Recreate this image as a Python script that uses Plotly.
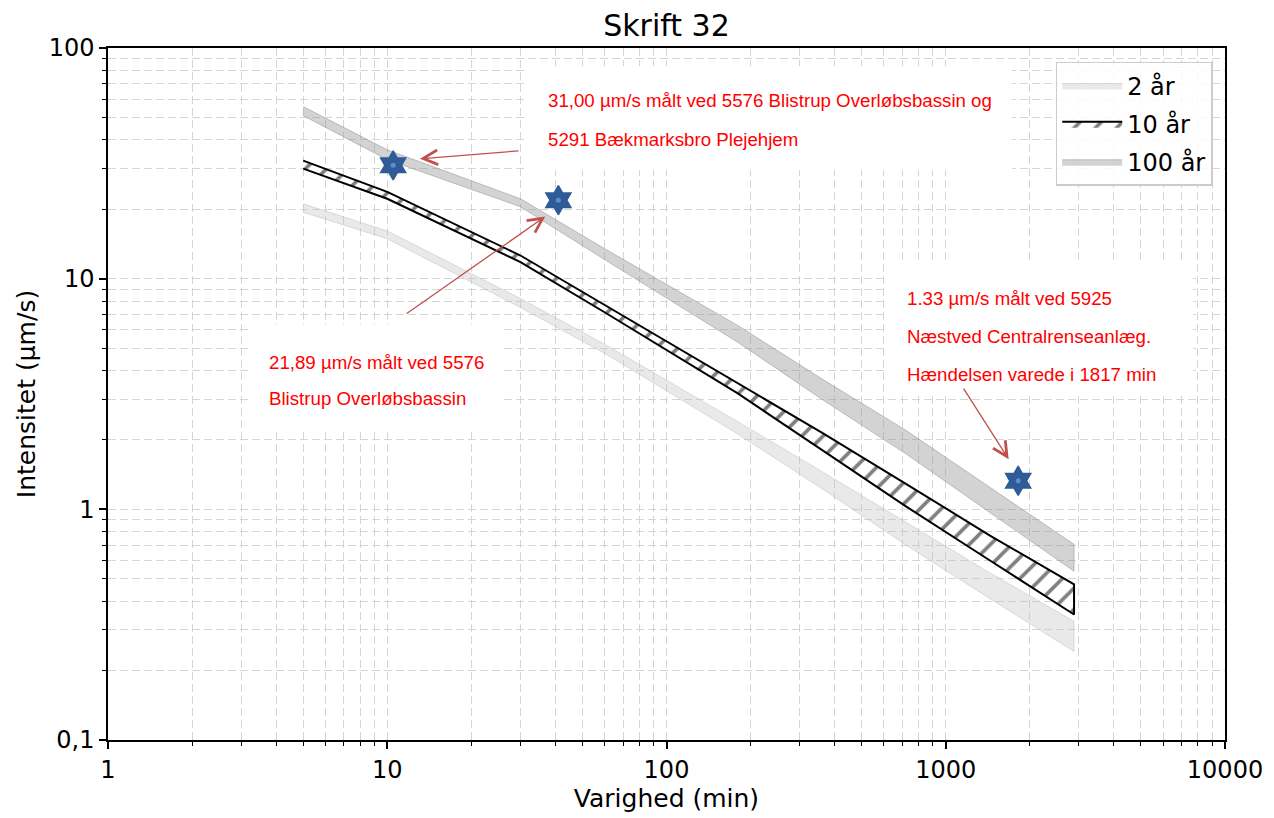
import numpy as np
import plotly.graph_objects as go

# ---------------- data ----------------
durations = [5, 10, 30, 60, 180, 360, 720, 1440, 2880]           # min
i2_upper = [21.1, 16.1, 8.2, 5.2, 2.4, 1.46, 0.88, 0.53, 0.327]    # µm/s
i2_lower = [19.4, 14.9, 7.5, 4.75, 2.12, 1.23, 0.70, 0.41, 0.242]
i10_upper = [32.5, 23.8, 12.6, 7.7, 3.53, 2.15, 1.29, 0.77, 0.473]
i10_lower = [30.0, 22.2, 11.8, 7.15, 3.18, 1.81, 1.03, 0.60, 0.35]
i100_upper = [55.7, 36.2, 22.2, 13.5, 6.27, 3.68, 2.2, 1.25, 0.705]
i100_lower = [50.9, 32.8, 20.5, 12.1, 5.3, 3.0, 1.74, 0.97, 0.539]

obs_duration = [10.5, 41, 1817]
obs_intensity = [31.00, 21.89, 1.33]

band_names = ["2 år", "10 år", "100 år"]

x_tickvals = [1, 10, 100, 1000, 10000]
x_ticktext = ["1", "10", "100", "1000", "10000"]
y_tickvals = [0.1, 1, 10, 100]
y_ticktext = ["0,1", "1", "10", "100"]

FONT = "DejaVu Sans"
ANN_FONT = "Liberation Sans"
GRID = "#d5d5d5"
DASH = "8px,4px"


def band(x, lo, hi):
    return list(x) + list(x)[::-1], list(hi) + list(lo)[::-1]


fig = go.Figure()

bx, by = band(durations, i2_lower, i2_upper)
fig.add_trace(go.Scatter(x=bx, y=by, fill="toself", mode="lines",
                         fillcolor="rgba(195,195,195,0.36)",
                         line=dict(color="rgba(185,185,185,0.45)", width=1),
                         name=band_names[0], legendgroup="a"))

bx, by = band(durations, i10_lower, i10_upper)
fig.add_trace(go.Scatter(x=bx, y=by, fill="toself", mode="lines",
                         fillcolor="white",
                         fillpattern=dict(shape="/", fgcolor="black", bgcolor="white",
                                          size=15, solidity=0.24),
                         line=dict(color="black", width=2),
                         name=band_names[1], legendgroup="b"))

bx, by = band(durations, i100_lower, i100_upper)
fig.add_trace(go.Scatter(x=bx, y=by, fill="toself", mode="lines",
                         fillcolor="rgba(150,150,150,0.42)",
                         line=dict(color="rgba(150,150,150,0.55)", width=1),
                         name=band_names[2], legendgroup="c"))

fig.add_trace(go.Scatter(x=obs_duration, y=obs_intensity, mode="markers",
                         marker=dict(symbol="hexagram", size=22, color="#2f5b97",
                                     line=dict(width=1.5, color="#2f5b97")),
                         showlegend=False, hoverinfo="skip"))
fig.add_trace(go.Scatter(x=obs_duration, y=obs_intensity, mode="markers",
                         marker=dict(symbol="circle", size=5, color="#5b8fd0",
                                     line=dict(width=0)),
                         showlegend=False, hoverinfo="skip"))

# plot-area geometry helpers (for placing annotation boxes)
L, R, T, B = 108, 1225, 48, 740
def px(xp):
    return (xp - L) / (R - L)
def py(yp):
    return (B - yp) / (B - T)

# white boxes behind annotation texts
boxes = [(525, 1012, 66, 170), (248, 503, 325, 430), (885, 1193, 262, 395)]
shapes = []
for x0, x1, y0, y1 in boxes:
    shapes.append(dict(type="rect", xref="paper", yref="paper",
                       x0=px(x0), x1=px(x1), y0=py(y1), y1=py(y0),
                       fillcolor="white", line=dict(width=0), layer="above"))

ann_lines = [
    (546, [101, 139], ["31,00 µm/s målt ved 5576 Blistrup Overløbsbassin og",
                       "5291 Bækmarksbro Plejehjem"]),
    (267, [362, 398], ["21,89 µm/s målt ved 5576", "Blistrup Overløbsbassin"]),
    (905, [298, 336, 374], ["1.33 µm/s målt ved 5925", "Næstved Centralrenseanlæg.",
                            "Hændelsen varede i 1817 min"]),
]
annotations = []
for xp, ys, texts in ann_lines:
    for yp, t in zip(ys, texts):
        annotations.append(dict(xref="paper", yref="paper", x=px(xp), y=py(yp),
                                xanchor="left", yanchor="middle", text=t, showarrow=False,
                                font=dict(family=ANN_FONT, size=18.7, color="#ff0000")))

# arrows: head position (log coords), tail offset in pixels
arrows = [(13.1, 33.1, 100, -8), (36.8, 18.6, -140, 98), (1680, 1.65, -46, -72)]
for hx, hy, ax, ay in arrows:
    annotations.append(dict(xref="x", yref="y", x=np.log10(hx), y=np.log10(hy),
                            ax=ax, ay=ay, axref="pixel", ayref="pixel", text="",
                            showarrow=True, arrowhead=5, arrowsize=2.2, arrowwidth=1.3,
                            arrowcolor="#c0504d", standoff=0))

minor_x = [m * 10 ** d for d in range(0, 4) for m in range(2, 10)]
minor_y = [m * 10 ** d for d in range(-1, 2) for m in range(2, 10)]

axis_common = dict(type="log", showline=True, linecolor="black", linewidth=1.5,
                   mirror=True, ticks="outside", ticklen=7, tickwidth=1.5,
                   tickcolor="black", showgrid=True, gridcolor=GRID, gridwidth=1,
                   griddash=DASH, zeroline=False,
                   tickfont=dict(family=FONT, size=24, color="black"))

fig.update_layout(
    width=1274, height=818,
    margin=dict(l=L, r=1274 - R, t=T, b=818 - B),
    plot_bgcolor="white", paper_bgcolor="white",
    font=dict(family=FONT, color="black"),
    title=dict(text="Skrift 32", x=0.5, xref="paper", xanchor="center",
               y=1 - 25 / 818, yanchor="middle",
               font=dict(family=FONT, size=30, color="black")),
    xaxis=dict(**axis_common, range=[0, 4], tickmode="array", tickvals=x_tickvals,
               ticktext=x_ticktext,
               minor=dict(tickmode="array", tickvals=minor_x, ticks="outside", ticklen=4,
                          tickwidth=1, tickcolor="black", showgrid=True, gridcolor=GRID,
                          griddash=DASH, gridwidth=1),
               title=dict(text="Varighed (min)", font=dict(family=FONT, size=25),
                          standoff=6)),
    yaxis=dict(**axis_common, range=[-1, 2], tickmode="array", tickvals=y_tickvals,
               ticktext=y_ticktext,
               minor=dict(tickmode="array", tickvals=minor_y, ticks="outside", ticklen=4,
                          tickwidth=1, tickcolor="black", showgrid=True, gridcolor=GRID,
                          griddash=DASH, gridwidth=1),
               title=dict(text="Intensitet (µm/s)", font=dict(family=FONT, size=25),
                          standoff=6)),
    legend=dict(x=0.989, xanchor="right", y=0.98, yanchor="top",
                bgcolor="rgba(255,255,255,0.85)", bordercolor="#cccccc", borderwidth=1.5,
                font=dict(family=FONT, size=24, color="black"),
                traceorder="grouped", tracegroupgap=4, itemwidth=60),
    shapes=shapes,
    annotations=annotations,
    showlegend=True,
)

fig.write_html("out.html", config={"displayModeBar": False},
               post_script="document.body.style.margin='0';")
